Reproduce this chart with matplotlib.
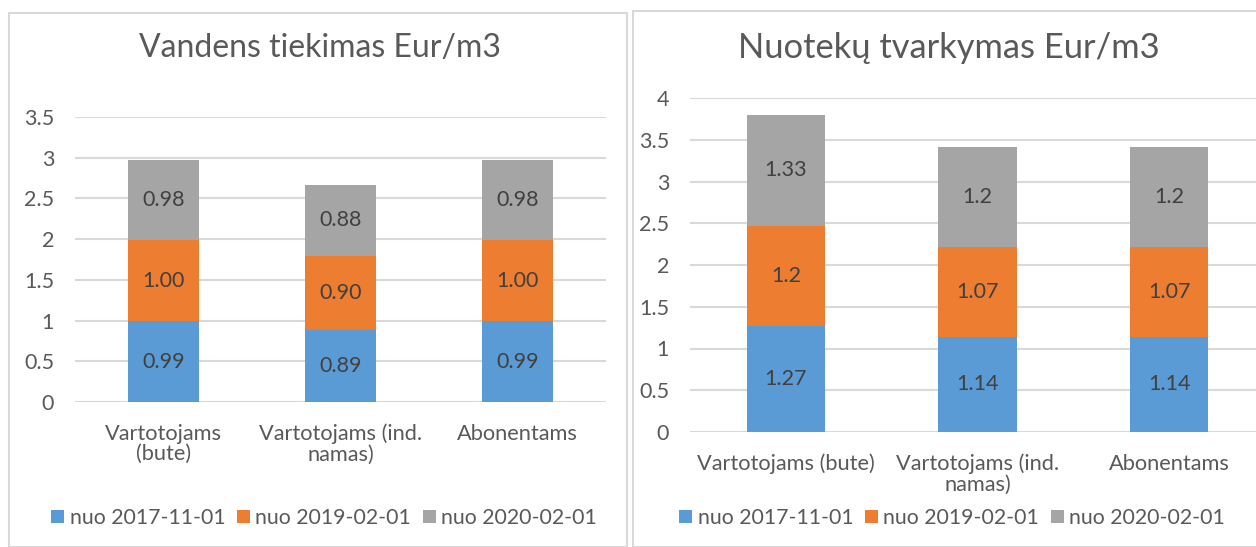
import matplotlib
matplotlib.use("Agg")
import matplotlib.pyplot as plt
from matplotlib.patches import Rectangle

plt.rcParams['font.family'] = ['Lato', 'DejaVu Sans']

series_names = ["nuo 2017-11-01", "nuo 2019-02-01", "nuo 2020-02-01"]
colors = ["#5B9BD5", "#ED7D31", "#A5A5A5"]

left_title = "Vandens tiekimas Eur/m3"
left_categories = ["Vartotojams\n(bute)", "Vartotojams (ind.\nnamas)", "Abonentams"]
left_2017 = [0.99, 0.89, 0.99]
left_2019 = [1.00, 0.90, 1.00]
left_2020 = [0.98, 0.88, 0.98]
left_yticks = [0, 0.5, 1, 1.5, 2, 2.5, 3, 3.5]
left_yticklabels = ["0", "0.5", "1", "1.5", "2", "2.5", "3", "3.5"]

right_title = "Nuotekų tvarkymas Eur/m3"
right_categories = ["Vartotojams (bute)", "Vartotojams (ind.\nnamas)", "Abonentams"]
right_2017 = [1.27, 1.14, 1.14]
right_2019 = [1.2, 1.07, 1.07]
right_2020 = [1.33, 1.2, 1.2]
right_yticks = [0, 0.5, 1, 1.5, 2, 2.5, 3, 3.5, 4]
right_yticklabels = ["0", "0.5", "1", "1.5", "2", "2.5", "3", "3.5", "4"]

W, H = 1256, 547
fig = plt.figure(figsize=(W / 100, H / 100), dpi=100)
fig.patch.set_facecolor("white")

TXT = "#595959"
LBL = "#404040"
GRID = "#D9D9D9"


def px_axes(x0, x1, ytop, ybot):
    return fig.add_axes([x0 / W, (H - ybot) / H, (x1 - x0) / W, (ybot - ytop) / H])


# chart frames
fig.patches.append(Rectangle((9 / W, 0), (627 - 9) / W, (H - 13) / H, transform=fig.transFigure,
                             fill=False, edgecolor="#D9D9D9", linewidth=1.5))
fig.patches.append(Rectangle((633 / W, 0), (1270 - 633) / W, (H - 11) / H, transform=fig.transFigure,
                             fill=False, edgecolor="#D9D9D9", linewidth=1.5))


def draw(ax, cats, s1, s2, s3, yticks, yticklabels, ymax, fmt, width):
    x = list(range(len(cats)))
    bottom = [0] * len(cats)
    for vals, col, name in zip([s1, s2, s3], colors, series_names):
        bars = ax.bar(x, vals, width, bottom=bottom, color=col, label=name, zorder=3)
        for b, v, bt in zip(bars, vals, bottom):
            ax.text(b.get_x() + b.get_width() / 2, bt + v / 2, fmt(v), ha="center", va="center",
                    fontsize=15.5, color=LBL, zorder=4)
        bottom = [a + b for a, b in zip(bottom, vals)]
    ax.set_xlim(-0.5, len(cats) - 0.5)
    ax.set_ylim(0, ymax)
    ax.set_yticks(yticks)
    ax.set_yticklabels(yticklabels)
    ax.set_xticks(x)
    ax.set_xticklabels(cats, linespacing=1.05)
    ax.grid(axis="y", color=GRID, linewidth=1.5, zorder=0)
    for s in ax.spines.values():
        s.set_visible(False)
    ax.tick_params(axis="both", length=0, labelsize=15.5, labelcolor=TXT)
    ax.tick_params(axis="y", pad=15)
    ax.tick_params(axis="x", pad=15.5, labelsize=15.7)
    ax.set_facecolor("none")


axL = px_axes(75, 606, 117, 402)
draw(axL, left_categories, left_2017, left_2019, left_2020, left_yticks, left_yticklabels, 3.5,
     lambda v: f"{v:.2f}", 0.40)
fig.text(320 / W, (H - 48) / H, left_title, ha="center", va="center", fontsize=23, color=TXT)

axR = px_axes(690, 1265, 98, 432)
draw(axR, right_categories, right_2017, right_2019, right_2020, right_yticks, right_yticklabels, 4,
     lambda v: f"{v:g}", 0.41)
fig.text(949 / W, (H - 48) / H, right_title, ha="center", va="center", fontsize=24.8, color=TXT)

for ax, cx in [(axL, 324), (axR, 952)]:
    h, l = ax.get_legend_handles_labels()
    fig.legend(h, l, loc="center", bbox_to_anchor=(cx / W, (H - 518) / H), ncol=3, frameon=False,
               fontsize=15.3, handlelength=0.62, handleheight=0.62, handletextpad=0.25,
               columnspacing=0.55, labelcolor=TXT, borderaxespad=0)

fig.savefig("out.png", dpi=100, facecolor="white")
